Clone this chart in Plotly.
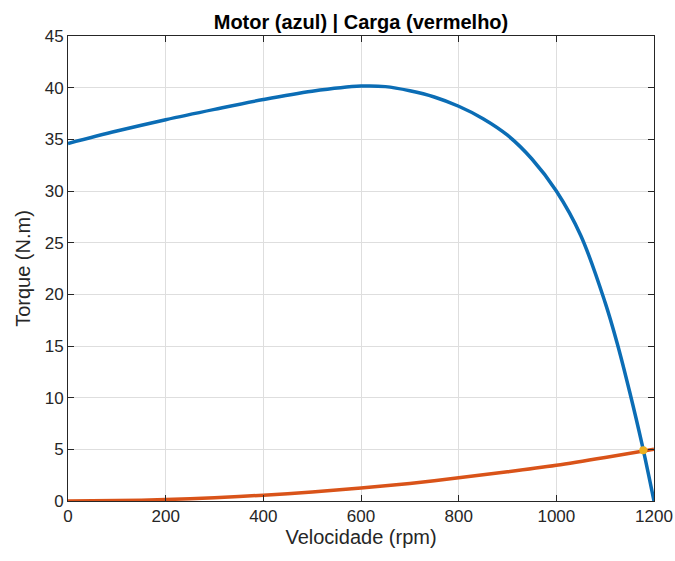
import plotly.graph_objects as go

# Motor torque curve (blue)
motor_rpm = [0, 100, 200, 300, 400, 500, 600, 650, 700, 750, 800, 850, 900, 950,
             1000, 1050, 1100, 1125, 1150, 1175, 1200]
motor_torque = [34.6, 35.8, 36.9, 37.9, 38.85, 39.65, 40.15, 40.1, 39.7, 39.1, 38.2, 37.0,
                35.4, 33.1, 30.0, 25.7, 19.2, 15.2, 10.6, 5.6, 0.0]

# Load torque curve (red)
load_rpm = [0, 100, 200, 300, 400, 500, 600, 700, 800, 900, 1000, 1100, 1200]
load_torque = [0.0, 0.04, 0.14, 0.31, 0.56, 0.87, 1.25, 1.70, 2.25, 2.82, 3.45, 4.20, 5.0]

# Operating point (intersection)
op_rpm = [1178]
op_torque = [4.9]

x_ticks = [0, 200, 400, 600, 800, 1000, 1200]
y_ticks = [0, 5, 10, 15, 20, 25, 30, 35, 40, 45]

FONT = "Liberation Sans, Arial, Helvetica, sans-serif"
AX = "#262626"

fig = go.Figure()
fig.add_trace(go.Scatter(x=motor_rpm, y=motor_torque, mode="lines",
                         line=dict(color="#0b6db5", width=3.5, shape="spline", smoothing=1.0),
                         showlegend=False))
fig.add_trace(go.Scatter(x=load_rpm, y=load_torque, mode="lines",
                         line=dict(color="#D95319", width=3.5, shape="spline", smoothing=0.8),
                         showlegend=False))
fig.add_trace(go.Scatter(x=op_rpm, y=op_torque, mode="markers",
                         marker=dict(color="#EDB120", size=8, symbol="circle"),
                         showlegend=False))

axis_common = dict(
    showline=True, linecolor=AX, linewidth=1, mirror="ticks",
    ticks="inside", ticklen=6, tickcolor=AX, tickwidth=1,
    showgrid=True, gridcolor="#dedede", gridwidth=1,
    zeroline=False, automargin=False,
    tickfont=dict(family=FONT, size=17, color=AX),
)

fig.update_layout(
    width=675, height=561,
    margin=dict(l=68, r=21, t=36, b=60),
    paper_bgcolor="white", plot_bgcolor="white",
    title=dict(text="<b>Motor (azul) | Carga (vermelho)</b>",
               font=dict(family=FONT, size=20, color="#000000"),
               x=0.5, xref="paper", xanchor="center",
               y=1 - 22 / 561, yref="container", yanchor="middle"),
    xaxis=dict(range=[0, 1200], tickvals=x_ticks,
               title=dict(text="Velocidade (rpm)", font=dict(family=FONT, size=20, color=AX), standoff=4),
               **axis_common),
    yaxis=dict(range=[0, 45], tickvals=y_ticks,
               title=dict(text="Torque (N.m)", font=dict(family=FONT, size=20, color=AX), standoff=8),
               **axis_common),
)

fig.write_html("out.html")
